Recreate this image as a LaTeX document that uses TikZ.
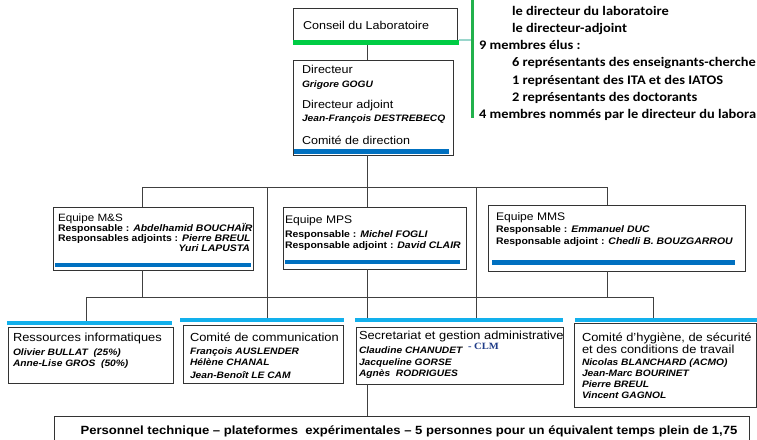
\documentclass[tikz,border=0pt]{standalone}
\usepackage{fontspec}
\setmainfont{Liberation Sans}[FakeStretch=1.1]
\newfontfamily\calibfont{Carlito}[FakeStretch=1.1]
\newfontfamily\clmfont{Liberation Serif}[FakeStretch=1.1]
\usetikzlibrary{shadows}
\definecolor{linegray}{HTML}{404040}
\definecolor{boxgray}{HTML}{333333}
\definecolor{barblue}{HTML}{0070C0}
\definecolor{barcyan}{HTML}{12B0EC}
\definecolor{bargreen}{HTML}{00CC44}
\definecolor{vgreen}{HTML}{22B14C}
\definecolor{lteal}{HTML}{9AD6CC}
\definecolor{clmblue}{HTML}{1F3C88}
\begin{document}
\begin{tikzpicture}[x=1pt,y=-1pt,
  box/.style={draw=boxgray, line width=0.9pt, fill=white, inner sep=0pt, outer sep=0pt, anchor=north west,
    drop shadow={shadow xshift=1.2pt, shadow yshift=-1.2pt, opacity=0.35, fill=black}},
  bar/.style={draw=none, inner sep=0pt, outer sep=0pt, anchor=north west},
  conn/.style={draw=linegray, line width=0.8pt},
  txt/.style={inner sep=0pt, outer sep=0pt, anchor=base west},
  ttl/.style={txt, font=\fontsize{11.4}{13}\selectfont},
  eqt/.style={txt, font=\fontsize{11}{13}\selectfont},
  nm/.style={txt, font=\fontsize{9.3}{11}\selectfont\bfseries\itshape},
  rsp/.style={txt, font=\fontsize{9.5}{11}\selectfont\bfseries},
  low/.style={txt, font=\fontsize{11.7}{13}\selectfont},
  rt/.style={txt, font=\calibfont\bfseries\fontsize{13.1}{16}\selectfont},
]
\useasboundingbox (0,0) rectangle (757,439);
\clip (0,0) rectangle (757,439);
\fill[white] (0,0) rectangle (757,439);

% column and bus coordinates
\coordinate (cA) at (86,0);
\coordinate (cB) at (142,0);
\coordinate (cC) at (267,0);
\coordinate (cD) at (367,0);
\coordinate (cE) at (476,0);
\coordinate (cF) at (607,0);
\coordinate (cG) at (653,0);
\coordinate (busone) at (0,187);
\coordinate (bustwo) at (0,297);

% ---- boxes ----
\node[box, minimum width=164pt, minimum height=32pt] (conseil) at (293,8) {};
\node[bar, fill=bargreen, minimum width=166pt, minimum height=5pt] (conseilbar) at (293,40) {};
\node[bar, fill=vgreen, minimum width=3.5pt, minimum height=121pt] (gbar) at (470.5,-3) {};

\node[box, minimum width=160pt, minimum height=95pt] (dir) at (293,60) {};
\node[bar, fill=barblue, minimum width=155pt, minimum height=4.5pt] (dirbar) at (294,149) {};

\node[box, minimum width=200pt, minimum height=63pt] (ms) at (53,207) {};
\node[bar, fill=barblue, minimum width=196pt, minimum height=4pt] (msbar) at (55,262.7) {};
\node[box, minimum width=183pt, minimum height=62pt] (mps) at (283,207) {};
\node[bar, fill=barblue, minimum width=175pt, minimum height=4.5pt] (mpsbar) at (285,259.5) {};
\node[box, minimum width=257pt, minimum height=66pt] (mms) at (488,205) {};
\node[bar, fill=barblue, minimum width=243pt, minimum height=4.5pt] (mmsbar) at (492,260) {};

\node[bar, fill=barcyan, minimum width=165pt, minimum height=3.5pt] (resbar) at (7,321) {};
\node[box, minimum width=165pt, minimum height=56pt] (res) at (8,327) {};
\node[bar, fill=barcyan, minimum width=164pt, minimum height=4pt] (commbar) at (180,318) {};
\node[box, minimum width=160pt, minimum height=58pt] (comm) at (183,325) {};
\node[bar, fill=barcyan, minimum width=208pt, minimum height=4pt] (secbar) at (355,318) {};
\node[box, minimum width=207pt, minimum height=57pt] (sec) at (356,327) {};
\node[bar, fill=barcyan, minimum width=184pt, minimum height=4pt] (hygbar) at (575,318) {};
\node[box, minimum width=182pt, minimum height=84pt] (hyg) at (574,323) {};
\node[box, minimum width=695pt, minimum height=32pt] (pers) at (54,416) {};

% ---- connectors ----
\draw[conn] (conseilbar.south -| cD) -- (dir.north -| cD);
\draw[draw=lteal, line width=1.2pt] (conseilbar.north east) -- (conseilbar.north east -| gbar.west);
\draw[conn] (dir.south -| cD) -- (busone -| cD);
\draw[conn] (busone -| cB) -- (busone -| cF);
\draw[conn] (busone -| cB) -- (ms.north -| cB);
\draw[conn] (busone -| cD) -- (mps.north -| cD);
\draw[conn] (busone -| cF) -- (mms.north -| cF);
\draw[conn] (busone -| cC) -- (commbar.north -| cC);
\draw[conn] (busone -| cE) -- (secbar.north -| cE);
\draw[conn] (ms.south -| cB) -- (bustwo -| cB);
\draw[conn] (mps.south -| cD) -- (secbar.north -| cD);
\draw[conn] (mms.south -| cF) -- (bustwo -| cF);
\draw[conn] (bustwo -| cA) -- (bustwo -| cG);
\draw[conn] (bustwo -| cA) -- (resbar.north -| cA);
\draw[conn] (bustwo -| cG) -- (hygbar.north -| cG);
\draw[conn] (sec.south -| cD) -- (pers.north -| cD);

% ---- texts ----
\node[ttl] (tconseil) at (303,29) {Conseil du Laboratoire};

\node[rt] (rone) at (512,15) {le directeur du laboratoire};
\node[rt] (rtwo) at (512,32.3) {le directeur-adjoint};
\node[rt] (rthree) at (479,49.6) {9 membres élus :};
\node[rt] (rfour) at (512,66.9) {6 représentants des enseignants-cherche};
\node[rt] (rfive) at (512,84.2) {1 représentant des ITA et des IATOS};
\node[rt] (rsix) at (512,101.5) {2 représentants des doctorants};
\node[rt] (rseven) at (479,118.8) {4 membres nommés par le directeur du labora};

\node[ttl] (tdir) at (302,73.3) {Directeur};
\node[nm] (tgogu) at (302,87) {Grigore GOGU};
\node[ttl] (tdiradj) at (302,108.3) {Directeur adjoint};
\node[nm] (tdestr) at (302,121) {Jean-François DESTREBECQ};
\node[ttl] (tcomdir) at (302,144.3) {Comité de direction};

\node[eqt, font=\fontsize{10.6}{13}\selectfont] (tms) at (58,221) {Equipe M\&S};
\node[rsp] (tmsa) at (58,231) {Responsable : \textit{Abdelhamid BOUCHAÏR}};
\node[rsp] (tmsb) at (58,241) {Responsables adjoints : \textit{Pierre BREUL}};
\node[rsp, anchor=base east] (tmsc) at (250,251) {\textit{Yuri LAPUSTA}};

\node[eqt] (tmps) at (285,223.3) {Equipe MPS};
\node[rsp] (tmpsa) at (285,237.5) {Responsable : \textit{Michel FOGLI}};
\node[rsp] (tmpsb) at (285,248.5) {Responsable adjoint : \textit{David CLAIR}};

\node[eqt] (tmms) at (496,220) {Equipe MMS};
\node[rsp] (tmmsa) at (496,232) {Responsable : \textit{Emmanuel DUC}};
\node[rsp] (tmmsb) at (496,244.3) {Responsable adjoint : \textit{Chedli B. BOUZGARROU}};

\node[low] (tres) at (13,341.7) {Ressources informatiques};
\node[nm] (tresa) at (13,355) {Olivier BULLAT~ (25\%)};
\node[nm] (tresb) at (13,366) {Anne-Lise GROS~ (50\%)};

\node[low] (tcomm) at (190,341.7) {Comité de communication};
\node[nm] (tcomma) at (190,354) {François AUSLENDER};
\node[nm] (tcommb) at (190,365) {Hélène CHANAL};
\node[nm] (tcommc) at (190,378) {Jean-Benoît LE CAM};

\node[low] (tsec) at (359,339.3) {Secretariat et gestion administrative};
\node[nm] (tseca) at (359,353.3) {Claudine CHANUDET};
\node[txt, font=\clmfont\bfseries\fontsize{9.6}{11}\selectfont, text=clmblue] (tclm) at (468,349.3) {- CLM};
\node[nm] (tsecb) at (359,365) {Jacqueline GORSE};
\node[nm] (tsecc) at (359,376.7) {Agnès~ RODRIGUES};

\node[low] (thyg) at (582,341) {Comité d’hygiène, de sécurité};
\node[low] (thygb) at (582,353.3) {et des conditions de travail};
\node[nm] (thyga) at (582,365) {Nicolas BLANCHARD (ACMO)};
\node[nm] (thygc) at (582,376) {Jean-Marc BOURINET};
\node[nm] (thygd) at (582,387.3) {Pierre BREUL};
\node[nm] (thyge) at (582,398.3) {Vincent GAGNOL};

\node[txt, anchor=base, font=\fontsize{11.9}{13}\selectfont\bfseries] (tpers) at (409,434)
  {Personnel technique -- plateformes~ expérimentales -- 5 personnes pour un équivalent temps plein de 1,75};
\end{tikzpicture}
\end{document}
